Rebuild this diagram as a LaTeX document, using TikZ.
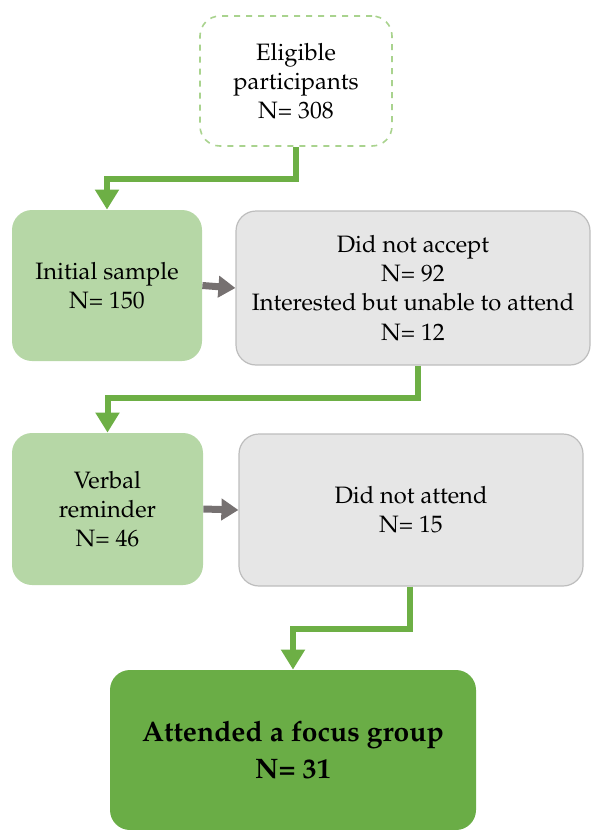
\documentclass[tikz,border=0pt]{standalone}
\usepackage[T1]{fontenc}
\usepackage{mathpazo}
\usetikzlibrary{arrows.meta,positioning}

\definecolor{lightgreen}{HTML}{B6D7A6}
\definecolor{darkgreen}{HTML}{6AAD46}
\definecolor{linegreen}{HTML}{6DAF45}
\definecolor{dashgreen}{HTML}{A9D38E}
\definecolor{boxgrey}{HTML}{E6E6E6}
\definecolor{edgegrey}{HTML}{BDBDBD}
\definecolor{arrowgrey}{HTML}{767171}

\tikzset{
    box/.style={rounded corners=10pt, align=center, inner sep=2pt,
        font=\fontsize{11.85}{14.6}\selectfont},
    startbox/.style={box, draw=dashgreen, dashed, line width=0.8pt, fill=white},
    stagebox/.style={box, fill=lightgreen},
    dropbox/.style={box, draw=edgegrey, line width=0.6pt, fill=boxgrey},
    endbox/.style={box, fill=darkgreen,
        font=\fontsize{14.1}{18.5}\selectfont\bfseries},
    flow/.style={draw=linegreen, line width=3pt,
        -{Triangle[width=11.5pt,length=10pt]}},
    drop/.style={draw=arrowgrey, line width=3.5pt,
        -{Triangle[width=10.5pt,length=8.5pt]}}
}

\begin{document}
\begin{tikzpicture}[x=0.5pt, y=0.5pt]
\useasboundingbox (0,0) rectangle (592,-830);

% Boxes
\node[startbox, minimum width=96pt, minimum height=65pt]
    (elig) at (296,-81) {Eligible\\participants\\N= 308};
\node[stagebox, minimum width=95pt, minimum height=75.5pt]
    (init) at (107,-285.5) {Initial sample\\N= 150};
\node[dropbox, minimum width=177pt, minimum height=77pt]
    (nacc) at (413,-288) {Did not accept\\N= 92\\Interested but unable to attend\\N= 12};
\node[stagebox, minimum width=95.5pt, minimum height=76pt]
    (verb) at (107.5,-509) {Verbal\\reminder\\N= 46};
\node[dropbox, minimum width=172pt, minimum height=76pt]
    (natt) at (411,-510) {Did not attend\\N= 15};
\node[endbox, minimum width=183pt, minimum height=80pt]
    (att) at (293,-750) {Attended a focus group\\N= 31};

% Green flow
\draw[flow] (elig.south) -- ++(0,-32) -| (init.north);
\draw[flow] ([xshift=2.5pt]nacc.south) -- ++(0,-32) -| (verb.north);
\draw[flow] ([xshift=-0.5pt]natt.south) -- ++(0,-42) -| (att.north);

% Grey side arrows
\draw[drop] (init.east) -- (nacc.west);
\draw[drop] (verb.east) -- (natt.west);
\end{tikzpicture}
\end{document}
